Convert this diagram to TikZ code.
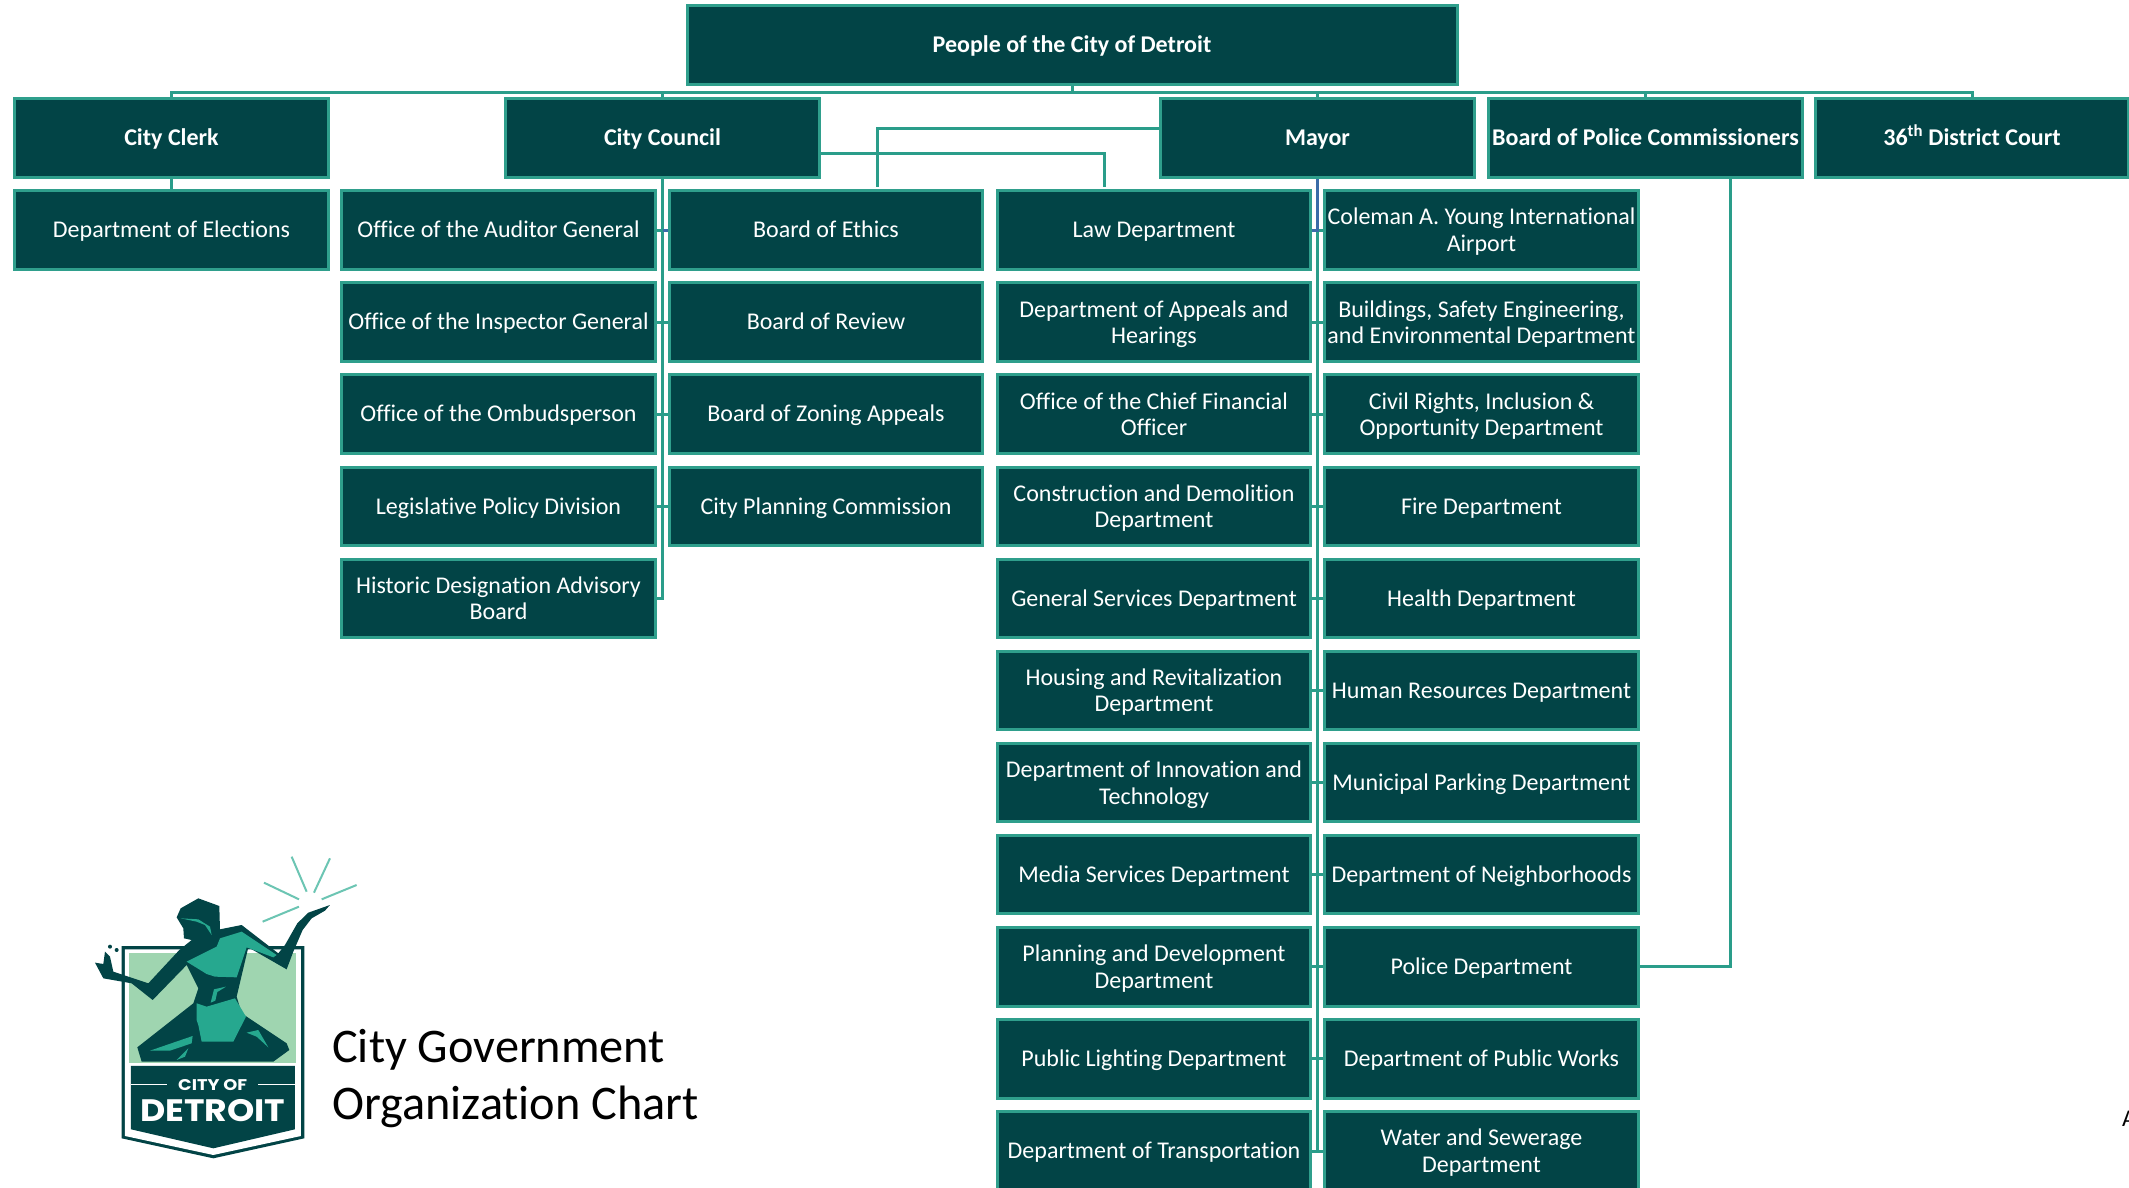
\documentclass[tikz,border=0pt]{standalone}
\usepackage{fontspec}
\setmainfont[Ligatures=NoCommon]{Carlito}
\newfontfamily\logofont{Poppins}
\definecolor{boxfill}{HTML}{024446}
\definecolor{boxline}{HTML}{2F9F8C}
\definecolor{wire}{HTML}{2A9D8A}
\definecolor{bluewire}{HTML}{3B6CA8}
\definecolor{panelgreen}{HTML}{9FD5B0}
\definecolor{logoteal}{HTML}{26A88F}
\definecolor{rayteal}{HTML}{6CC5B3}
\newcommand{\linestrut}{\rule[-5.55pt]{0pt}{26.5pt}}
\newcommand{\firstline}{\rule{0pt}{22pt}}
\tikzset{
  orgbox/.style={draw=boxline,fill=boxfill,line width=3pt,text=white,align=center,inner sep=0pt,
    minimum width=313.5pt,minimum height=78.5pt,font=\fontsize{24}{26.5}\selectfont,
    execute at begin node=\linestrut,execute at end node=\linestrut},
  headbox/.style={orgbox,font=\fontsize{24}{26.5}\selectfont\bfseries},
  wireline/.style={draw=wire,line width=3pt},
  blueline/.style={draw=bluewire,line width=3pt},
  titletext/.style={anchor=west,inner sep=0pt,text=black,font=\fontsize{48.3}{52}\selectfont},
  logodark/.style={fill=boxfill,draw=none},
  logomid/.style={fill=logoteal,draw=none},
  raystroke/.style={draw=rayteal,line width=2pt}
}
\begin{document}
\begin{tikzpicture}[x=1pt,y=-1pt]
\clip (0,0) rectangle (2129,1187);
\fill[white] (0,0) rectangle (2129,1187);

% heads
\node[headbox,minimum width=770pt] (people) at (1072,45) {People of the City of Detroit};
\node[headbox] (clerk) at (171.5,138) {City Clerk};
\node[headbox] (council) at (662.5,138) {City Council};
\node[headbox] (mayor) at (1317.5,138) {Mayor};
\node[headbox] (police) at (1645.5,138) {Board of Police Commissioners};
\node[headbox] (court) at (1972,138) {36\textsuperscript{th} District Court};

\node[orgbox] (elect) at (171.5,230) {Department of Elections};

% column A
\node[orgbox] (a1) at (498.5,230) {Office of the Auditor General};
\node[orgbox] (a2) at (498.5,322.1) {Office of the Inspector General};
\node[orgbox] (a3) at (498.5,414.2) {Office of the Ombudsperson};
\node[orgbox] (a4) at (498.5,506.3) {Legislative Policy Division};
\node[orgbox] (a5) at (498.5,598.4) {\firstline Historic Designation Advisory\\Board};
% column B
\node[orgbox] (b1) at (826,230) {Board of Ethics};
\node[orgbox] (b2) at (826,322.1) {Board of Review};
\node[orgbox] (b3) at (826,414.2) {Board of Zoning Appeals};
\node[orgbox] (b4) at (826,506.3) {City Planning Commission};
% column C
\node[orgbox] (c1) at (1154,230) {Law Department};
\node[orgbox] (c2) at (1154,322.1) {\firstline Department of Appeals and\\Hearings};
\node[orgbox] (c3) at (1154,414.2) {\firstline Office of the Chief Financial\\Officer};
\node[orgbox] (c4) at (1154,506.3) {\firstline Construction and Demolition\\Department};
\node[orgbox] (c5) at (1154,598.4) {General Services Department};
\node[orgbox] (c6) at (1154,690.5) {\firstline Housing and Revitalization\\Department};
\node[orgbox] (c7) at (1154,782.6) {\firstline Department of Innovation and\\Technology};
\node[orgbox] (c8) at (1154,874.7) {Media Services Department};
\node[orgbox] (c9) at (1154,966.8) {\firstline Planning and Development\\Department};
\node[orgbox] (c10) at (1154,1058.9) {Public Lighting Department};
\node[orgbox] (c11) at (1154,1151) {Department of Transportation};
% column D
\node[orgbox] (d1) at (1481.5,230) {\firstline Coleman A. Young International\\Airport};
\node[orgbox] (d2) at (1481.5,322.1) {\firstline Buildings, Safety Engineering,\\and Environmental Department};
\node[orgbox] (d3) at (1481.5,414.2) {\firstline Civil Rights, Inclusion \&\\Opportunity Department};
\node[orgbox] (d4) at (1481.5,506.3) {Fire Department};
\node[orgbox] (d5) at (1481.5,598.4) {Health Department};
\node[orgbox] (d6) at (1481.5,690.5) {Human Resources Department};
\node[orgbox] (d7) at (1481.5,782.6) {Municipal Parking Department};
\node[orgbox] (d8) at (1481.5,874.7) {Department of Neighborhoods};
\node[orgbox] (d9) at (1481.5,966.8) {Police Department};
\node[orgbox] (d10) at (1481.5,1058.9) {Department of Public Works};
\node[orgbox] (d11) at (1481.5,1151) {\firstline Water and Sewerage\\Department};

% connectors
\coordinate (bus) at (1072,92);
\draw[wireline] (people.south) -- (bus);
\draw[wireline] (clerk.north) -- (clerk.north |- bus) -- (court.north |- bus) -- (court.north);
\draw[wireline] (council.north) -- (council.north |- bus);
\draw[wireline] (mayor.north) -- (mayor.north |- bus);
\draw[wireline] (police.north) -- (police.north |- bus);
\draw[wireline] (clerk.south) -- (elect.north);

% council spine
\draw[wireline] (council.south) |- (a5.east);
\foreach \r in {1,2,3,4} { \draw[wireline] (a\r.east) -- (b\r.west); }
\draw[blueline] (council.south |- b1.west) -- (b1.west);

% mayor spine
\coordinate (mayorblue) at (mayor.south |- c1.east);
\draw[wireline] (mayorblue) -- (mayor.south |- c11.east);
\foreach \r in {1,...,11} { \draw[wireline] (c\r.east) -- (d\r.west); }
\draw[blueline] (mayor.south) -- (mayorblue) -- (c1.east);

% police line
\draw[wireline] ([xshift=84.5pt]police.south) |- (d9.east);

% crossing links
\coordinate (ethicsend) at ([xshift=51pt,yshift=2pt]b1.north);
\coordinate (lawend) at ([xshift=-50pt,yshift=2pt]c1.north);
\draw[wireline] ([yshift=10pt]mayor.west) -| (ethicsend);
\draw[wireline] ([yshift=-15pt]council.east) -| (lawend);

% title
\node[titletext] (title1) at (332,1049.5) {City Government};
\node[titletext] (title2) at (332,1106.5) {Organization Chart};
\node[anchor=west,inner sep=0pt,text=black,font=\fontsize{24}{26}\selectfont] (cutoff) at (2122,1119) {A};

% logo
\begin{scope}[shift={(60,840)},x=0.3333pt,y=-0.3333pt]
  \fill[boxfill] (185,318) -- (733,318) -- (733,895) -- (460,955) -- (185,895) -- cycle;
  \fill[white] (195,328) -- (723,328) -- (723,888) -- (460,945) -- (195,888) -- cycle;
  \fill[panelgreen] (207,340) rectangle (707,668);
  \fill[boxfill] (213,678) -- (705,678) -- (705,868) -- (460,925) -- (213,868) -- cycle;
  \draw[white,line width=1.6pt] (213,733) -- (322,733) (595,733) -- (705,733);
  % figure
  \fill[logodark] (415,175) -- (478,198) -- (480,268) -- (545,255) -- (655,340) -- (675,315) -- (712,250)
    -- (745,218) -- (810,195) -- (795,212) -- (755,235) -- (728,270) -- (700,335) -- (680,388) -- (640,365)
    -- (565,322) -- (530,470) -- (545,520) -- (680,610) -- (688,630) -- (640,665) -- (245,665) -- (232,622)
    -- (400,490) -- (415,445) -- (380,375) -- (278,480) -- (215,430) -- (130,415) -- (105,368) -- (130,372)
    -- (135,335) -- (150,350) -- (160,395) -- (205,410) -- (265,430) -- (358,330) -- (395,300) -- (372,295)
    -- (370,265) -- (350,232) -- (362,205) -- cycle;
  \fill[logomid] (380,365) -- (470,320) -- (480,295) -- (545,275) -- (650,345) -- (640,352) -- (560,322)
    -- (530,412) -- (465,410) -- (440,402) -- cycle;
  \fill[logomid] (410,490) -- (440,500) -- (525,475) -- (558,530) -- (520,605) -- (425,605) -- (415,555) -- (410,540) -- cycle;
  \fill[logomid] (452,488) -- (462,448) -- (498,440) -- (472,456) -- (466,482) -- cycle;
  \fill[logomid] (270,632) -- (398,588) -- (395,610) -- (330,632) -- cycle;
  \fill[logomid] (350,660) -- (385,625) -- (375,650) -- cycle;
  \fill[logomid] (560,578) -- (595,570) -- (625,622) -- (590,590) -- cycle;
  \fill[logomid] (362,235) -- (410,245) -- (435,255) -- (455,285) -- (450,260) -- (415,238) -- cycle;
  \fill[boxfill] (150,320) circle (6) (170,330) circle (6);
  \draw[raystroke] (695,50) -- (740,155) (810,55) -- (762,158) (612,128) -- (717,178) (890,135) -- (785,178) (608,245) -- (717,200);
  \node[text=white,inner sep=0pt,font=\logofont\fontsize{15.5}{16}\selectfont\bfseries] (logocity) at (458,736) {\scalebox{1.15}[1]{CITY OF}};
  \node[text=white,inner sep=0pt,font=\logofont\fontsize{31}{31}\selectfont\bfseries] (logodet) at (458,811) {\scalebox{1.12}[1]{DETROIT}};
\end{scope}
\end{tikzpicture}
\end{document}
